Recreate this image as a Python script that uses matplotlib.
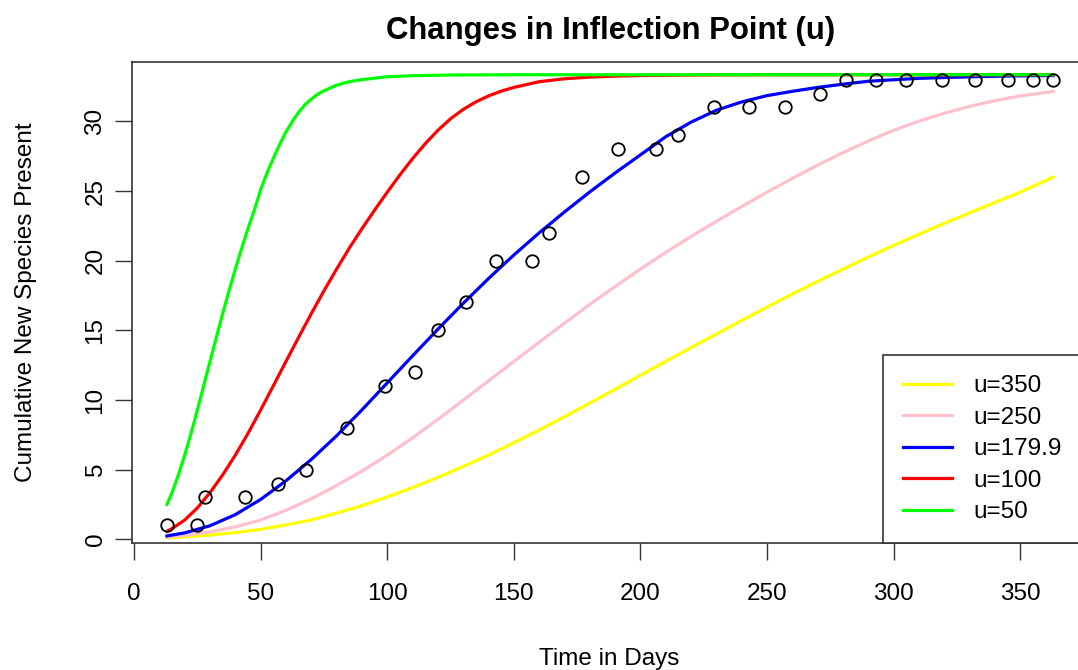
import matplotlib
matplotlib.use("Agg")
import matplotlib.pyplot as plt

plt.rcParams['font.family'] = ['Liberation Sans', 'DejaVu Sans']

# observed cumulative counts
obs_days = [13, 25, 28, 44, 57, 68, 84, 99, 111, 120, 131, 143, 157, 164, 177, 191,
            206, 215, 229, 243, 257, 271, 281, 293, 305, 319, 332, 345, 355, 363]
obs_species = [1, 1, 3, 3, 4, 5, 8, 11, 12, 15, 17, 20, 20, 22, 26, 28,
               28, 29, 31, 31, 31, 32, 33, 33, 33, 33, 33, 33, 33, 33]

# model curves for different inflection points
days_wide = [13, 20, 30, 40, 50, 60, 70, 80, 90, 100, 110, 120, 130, 140, 150, 160,
             170, 180, 190, 200, 210, 220, 230, 240, 250, 260, 270, 280, 290, 300,
             310, 320, 330, 340, 350, 363]
u350 = [0.1, 0.17, 0.30, 0.48, 0.71, 1.03, 1.38, 1.88, 2.41, 3.04, 3.71, 4.44, 5.23, 6.04,
        6.93, 7.84, 8.8, 9.78, 10.77, 11.77, 12.77, 13.76, 14.74, 15.71, 16.67, 17.61,
        18.51, 19.4, 20.26, 21.1, 21.9, 22.68, 23.44, 24.18, 24.92, 26.0]
u250 = [0.15, 0.28, 0.53, 0.89, 1.38, 2.08, 2.91, 3.86, 4.9, 6.04, 7.29, 8.61, 9.98, 11.37,
        12.77, 14.15, 15.52, 16.86, 18.15, 19.4, 20.6, 21.74, 22.83, 23.89, 24.92, 25.91,
        26.86, 27.76, 28.59, 29.36, 30.02, 30.59, 31.08, 31.49, 31.83, 32.15]
u180 = [0.24, 0.46, 0.97, 1.77, 2.86, 4.2, 5.73, 7.43, 9.29, 11.23, 13.17, 15.08, 16.94, 18.72,
        20.41, 22.0, 23.5, 24.94, 26.3, 27.6, 28.9, 29.95, 30.8, 31.4, 31.85, 32.16,
        32.44, 32.67, 32.88, 32.99, 33.09, 33.15, 33.2, 33.24, 33.27, 33.29]

days_u100 = [13, 15, 20, 25, 30, 35, 40, 45, 50, 55, 60, 65, 70, 75, 80, 85, 90, 95, 100,
             105, 110, 115, 120, 125, 130, 135, 140, 145, 150, 160, 170, 180, 190, 200,
             220, 250, 363]
u100 = [0.57, 0.77, 1.38, 2.25, 3.35, 4.62, 6.04, 7.6, 9.28, 11.02, 12.77, 14.5, 16.2, 17.84,
        19.4, 20.9, 22.3, 23.63, 24.92, 26.16, 27.33, 28.4, 29.36, 30.19, 30.86, 31.4,
        31.83, 32.17, 32.44, 32.85, 33.06, 33.18, 33.25, 33.29, 33.33, 33.35, 33.35]

days_u50 = [13, 15, 17.5, 20, 22.5, 25, 27.5, 30, 32.5, 35, 37.5, 40, 42.5, 45, 47.5, 50,
            52.5, 55, 57.5, 60, 62.5, 65, 67.5, 70, 72.5, 75, 80, 85, 90, 95, 100, 110,
            125, 150, 363]
u50 = [2.5, 3.35, 4.62, 6.04, 7.6, 9.28, 11.02, 12.77, 14.5, 16.2, 17.84, 19.4, 20.9, 22.3,
       23.63, 25.1, 26.3, 27.35, 28.35, 29.25, 30.0, 30.65, 31.2, 31.6, 31.95, 32.2, 32.6,
       32.85, 33.0, 33.1, 33.2, 33.28, 33.33, 33.35, 33.35]

labels = ["u=350", "u=250", "u=179.9", "u=100", "u=50"]
colors = ["#FFFF00", "#FFC0CB", "#0000FF", "#FF0000", "#00FF00"]
curves = [(days_wide, u350), (days_wide, u250), (days_wide, u180),
          (days_u100, u100), (days_u50, u50)]

fig = plt.figure(figsize=(10.78, 6.70), dpi=100)
ax = fig.add_axes([0.1220, 0.1893, 0.8879, 0.7185])

ax.plot(obs_days, obs_species, 'o', mfc='none', mec='black', ms=9, mew=1.3, zorder=5)
for (xs, ys), c, lab in zip(curves, colors, labels):
    ax.plot(xs, ys, color=c, lw=2.3, label=lab)

ax.set_xlim(-1, 377)
ax.set_ylim(-0.28, 34.28)
ax.set_xticks([0, 50, 100, 150, 200, 250, 300, 350])
ax.set_yticks([0, 5, 10, 15, 20, 25, 30])
ax.tick_params(direction='out', length=12, width=1, labelsize=17.5, color='#333333')
ax.tick_params(axis='x', pad=17)
ax.tick_params(axis='y', labelrotation=90, pad=6)
for lbl in ax.get_yticklabels():
    lbl.set_va('center')
for s in ax.spines.values():
    s.set_color('#333333')
    s.set_linewidth(1.2)

ax.set_xlabel("Time in Days", fontsize=17.5)
ax.xaxis.set_label_coords(0.4989, -0.2405)
ax.xaxis.label.set_va('center')
ax.set_ylabel("Cumulative New Species Present", fontsize=17.5)
ax.yaxis.set_label_coords(-0.110, 0.501)
ax.yaxis.label.set_va('center')

fig.text(0.566, 0.954, "Changes in Inflection Point (u)", fontsize=22.4,
         fontweight='bold', ha='center', va='center')

# legend sits in the bottom-right corner, stretched to the axes edge
leg = ax.legend(loc='lower left', bbox_to_anchor=(0.7855, 0, 0.2145, 0.3), mode='expand',
                borderaxespad=0, fontsize=17.5, fancybox=False, framealpha=1,
                edgecolor='#333333', handlelength=2.0, handletextpad=0.9,
                labelspacing=0.39, borderpad=0.82)
leg.get_frame().set_linewidth(1.2)

fig.savefig("out.png", dpi=100)
